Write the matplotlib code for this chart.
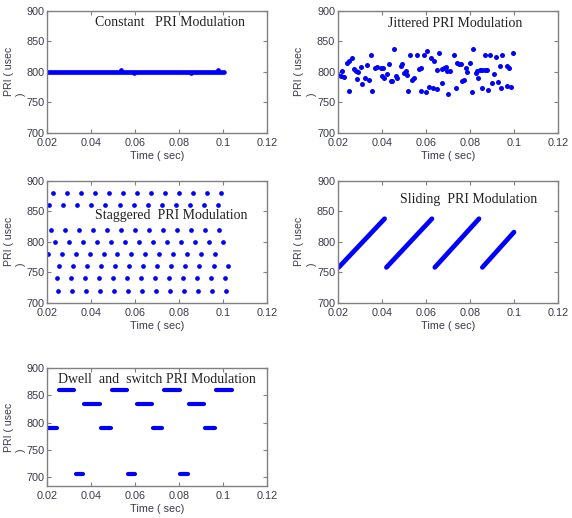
import numpy as np
import matplotlib
matplotlib.use("Agg")
import matplotlib.pyplot as plt

plt.rcParams["font.family"] = ["Liberation Sans", "DejaVu Sans"]

# time values are in ms, PRI values in usec
const_span = [20.0, 100.3]
const_level = 800
const_bump_t = [53.6, 59.4, 85.2, 97.8]
const_bump_pri = [802, 798, 798, 802]

jit_t = [20.00, 21.52, 21.97, 22.73, 23.94, 25.00, 26.52, 25.00, 27.27, 28.03,
         29.09, 28.48, 30.30, 31.06, 32.12, 33.03, 34.09, 34.85, 35.61, 36.67,
         37.88, 39.39, 40.61, 40.15, 40.91, 42.12, 43.18, 43.94, 44.70, 45.45,
         46.21, 46.97, 48.48, 49.24, 50.00, 50.76, 51.52, 51.82, 52.73, 53.79,
         54.55, 56.06, 56.82, 57.88, 57.58, 59.09, 59.85, 60.61, 61.36, 63.33,
         64.85, 62.12, 63.64, 65.91, 65.15, 67.12, 67.42, 68.18, 68.94, 70.00,
         69.70, 70.91, 72.73, 73.48, 74.24, 75.00, 75.76, 76.52, 77.27, 78.03,
         78.79, 80.00, 80.76, 81.52, 82.58, 83.33, 83.64, 84.39, 85.61, 86.82,
         87.88, 85.61, 86.82, 88.33, 89.09, 90.15, 90.91, 91.67, 92.73, 93.64,
         93.94, 94.70, 96.67, 96.67, 97.73, 98.79, 99.70]
jit_pri = [795, 793, 801, 791, 815, 818, 823, 769, 804, 801,
           800, 788, 807, 780, 789, 811, 787, 828, 768, 806,
           807, 806, 806, 793, 790, 796, 813, 785, 784, 837,
           793, 790, 809, 812, 798, 801, 795, 769, 827, 787,
           790, 827, 804, 806, 768, 828, 767, 834, 775, 773,
           772, 822, 817, 831, 802, 782, 804, 806, 807, 764,
           801, 801, 827, 773, 815, 812, 813, 784, 787, 806,
           800, 815, 767, 838, 798, 801, 790, 802, 802, 802,
           802, 773, 827, 770, 827, 782, 796, 824, 783, 809,
           773, 828, 809, 776, 806, 775, 830]

stag_levels = [880, 860, 820, 800, 780, 760, 740, 720]
stag_times = [
    [22.42, 28.79, 35.15, 41.67, 48.03, 54.24, 60.76, 67.12, 73.48, 79.85, 86.21, 92.58, 98.94],
    [20.76, 27.27, 33.64, 40.00, 46.36, 52.88, 59.24, 65.61, 71.97, 78.33, 84.70, 91.06, 97.42],
    [21.52, 28.03, 34.39, 40.76, 47.27, 53.64, 60.00, 66.36, 72.73, 79.09, 85.45, 91.82, 98.18],
    [23.33, 29.85, 36.21, 42.42, 48.79, 55.15, 61.52, 67.88, 74.24, 80.61, 86.97, 93.33, 99.85],
    [20.30, 26.52, 32.88, 39.39, 45.76, 51.52, 58.03, 64.39, 70.91, 77.27, 83.64, 90.00, 96.36],
    [25.30, 31.82, 38.18, 44.55, 50.91, 57.27, 63.64, 70.00, 76.36, 82.73, 89.09, 95.61, 101.97],
    [24.39, 30.76, 37.12, 43.48, 49.85, 56.21, 62.42, 68.79, 75.15, 81.52, 87.88, 94.24, 100.61],
    [24.85, 31.21, 37.58, 43.94, 50.30, 56.67, 63.03, 69.39, 75.76, 82.12, 88.48, 94.85, 101.36],
]

slide_t0 = [20.3, 42.0, 64.0, 85.6]
slide_t1 = [41.2, 62.7, 84.1, 100.0]
slide_p0 = [758, 758, 758, 758]
slide_p1 = [838, 838, 838, 816]

dwell_level = [791, 860, 705, 835,
               791, 860, 705, 835,
               791, 860, 705, 835,
               791, 860]
dwell_t0 = [20.5, 25.5, 33.0, 36.9,
            44.4, 49.3, 56.7, 60.7,
            67.9, 73.1, 80.3, 84.5,
            91.7, 96.8]
dwell_t1 = [24.6, 32.2, 36.4, 43.8,
            48.8, 56.3, 59.9, 67.5,
            72.3, 80.2, 83.8, 91.3,
            96.2, 103.8]

titles = ["Constant   PRI Modulation", "Jittered PRI Modulation",
          "Staggered  PRI Modulation", "Sliding  PRI Modulation",
          "Dwell  and  switch PRI Modulation"]
xticks = [0.02, 0.04, 0.06, 0.08, 0.1, 0.12]
xticklabels = ["0.02", "0.04", "0.06", "0.08", "0.1", "0.12"]
yticks = [700, 750, 800, 850, 900]

blue = "#0000ff"
gray = "#808080"
txt = "#3a3a4a"

fig = plt.figure(figsize=(5.72, 5.18), dpi=100)
W, H = 572, 518


def make_ax(left, top, right, bottom, ylim):
    ax = fig.add_axes([left / W, 1 - bottom / H, (right - left) / W, (bottom - top) / H])
    ax.set_xlim(0.02, 0.12)
    ax.set_ylim(*ylim)
    ax.set_xticks(xticks)
    ax.set_xticklabels(xticklabels)
    ax.set_yticks(yticks)
    ax.tick_params(direction="in", length=3, width=0.8, color=gray,
                   labelsize=7.8, labelcolor=txt, top=True, right=True)
    ax.tick_params(axis="x", pad=4)
    ax.tick_params(axis="y", pad=2)
    for s in ax.spines.values():
        s.set_color(gray)
        s.set_linewidth(1.0)
    ax.set_xlabel("Time ( sec)", fontsize=7.8, color=txt, labelpad=2)
    ax.set_ylabel("PRI ( usec\n)", fontsize=7.6, color=txt,
                  multialignment="left", linespacing=1.3)
    ax.yaxis.set_label_coords(-0.097, 0.5)
    return ax


def title(ax, s, x, y):
    ax.text(x, y, s, transform=ax.transAxes, fontsize=10, family="Liberation Serif",
            ha="left", va="center", color="#222222")


# constant
ax = make_ax(47.3, 10.7, 267.3, 132.7, (700, 900))
ax.plot(np.array(const_span) / 1000, [const_level, const_level], color=blue, lw=3.4,
        solid_capstyle="round")
ax.plot(np.array(const_bump_t) / 1000, const_bump_pri, "o", color=blue, ms=3.4, mew=0)
title(ax, titles[0], 0.215, 0.90)

# jittered
ax = make_ax(338, 10.7, 558, 132.7, (700, 900))
ax.plot(np.array(jit_t) / 1000, jit_pri, "o", color=blue, ms=3.6, mew=0)
title(ax, titles[1], 0.227, 0.893)

# staggered
ax = make_ax(47.3, 181, 267.3, 302.7, (700, 900))
for lev, ts in zip(stag_levels, stag_times):
    ax.plot(np.array(ts) / 1000, np.full(len(ts), lev), "o", color=blue, ms=3.4, mew=0)
title(ax, titles[2], 0.218, 0.715)

# sliding
ax = make_ax(338, 181, 558, 302.7, (700, 900))
for a, b, p, q in zip(slide_t0, slide_t1, slide_p0, slide_p1):
    ax.plot([a / 1000, b / 1000], [p, q], color=blue, lw=3.4, solid_capstyle="round")
title(ax, titles[3], 0.283, 0.849)

# dwell and switch
ax = make_ax(47.3, 368.3, 267.3, 485.7, (684, 900))
for lev, a, b in zip(dwell_level, dwell_t0, dwell_t1):
    ax.plot([a / 1000, b / 1000], [lev, lev], color=blue, lw=3.0, solid_capstyle="round")
title(ax, titles[4], 0.048, 0.903)

fig.savefig("out.png", dpi=100)
